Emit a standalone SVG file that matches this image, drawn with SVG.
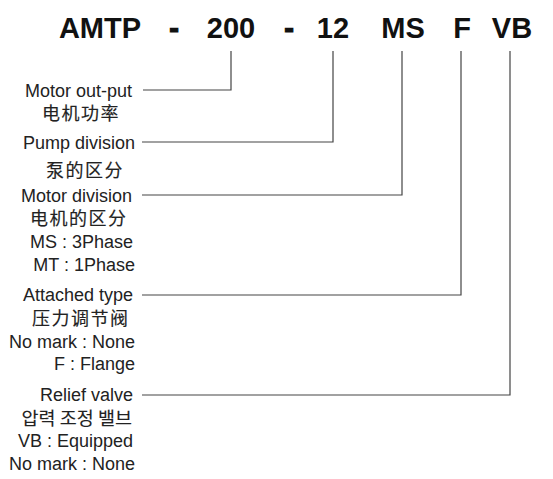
<svg xmlns="http://www.w3.org/2000/svg" width="553" height="479" viewBox="0 0 553 479">
<style>
.t{font-family:"Liberation Sans",Arial,sans-serif;font-weight:bold;font-size:29px;fill:#111;text-anchor:middle}
.d{stroke:#111;stroke-width:1.2}
.l{font-family:"Liberation Sans",Arial,sans-serif;font-size:18px;fill:#222;text-anchor:end}
.c{font-family:"Noto Sans CJK SC","Noto Sans CJK KR",sans-serif;font-size:18px;fill:#222;stroke:#222;stroke-width:0.15;letter-spacing:1.5px}
.k{font-family:"Noto Sans CJK KR",sans-serif;font-size:18.5px;fill:#222;stroke:#222;stroke-width:0.12;text-anchor:end}
.w{fill:none;stroke:#444;stroke-width:1.2}
</style>
<rect width="553" height="479" fill="#fff"/>
<g id="title">
<text class="t" x="100" y="38">AMTP</text>
<text class="t d" x="174" y="38">-</text>
<text class="t" x="231" y="38">200</text>
<text class="t d" x="289" y="38">-</text>
<text class="t" x="333" y="38">12</text>
<text class="t" x="403" y="38">MS</text>
<text class="t" x="462" y="38">F</text>
<text class="t" x="512" y="38">VB</text>
</g>
<g id="connectors">
<path class="w" d="M143 90H231V51"/>
<path class="w" d="M142 142H333V51"/>
<path class="w" d="M142 195H402V51"/>
<path class="w" d="M142 295H461V51"/>
<path class="w" d="M142 395H510V51"/>
</g>
<g id="motor-output">
<text class="l" x="132" y="97">Motor out-put</text>
<text class="c" x="42" y="120">电机功率</text>
</g>
<g id="pump-division">
<text class="l" x="135" y="149">Pump division</text>
<text class="c" x="46" y="177">泵的区分</text>
</g>
<g id="motor-division">
<text class="l" x="132" y="202">Motor division</text>
<text class="c" x="30" y="225">电机的区分</text>
<text class="l" x="133" y="248">MS : 3Phase</text>
<text class="l" x="135" y="271">MT : 1Phase</text>
</g>
<g id="attached-type">
<text class="l" x="133" y="301">Attached type</text>
<text class="c" x="32" y="325">压力调节阀</text>
<text class="l" x="135" y="348">No mark : None</text>
<text class="l" x="135" y="370">F : Flange</text>
</g>
<g id="relief-valve">
<text class="l" x="133" y="401">Relief valve</text>
<text class="k" x="132" y="425">압력 조정 밸브</text>
<text class="l" x="133" y="447">VB : Equipped</text>
<text class="l" x="135" y="470">No mark : None</text>
</g>
</svg>
